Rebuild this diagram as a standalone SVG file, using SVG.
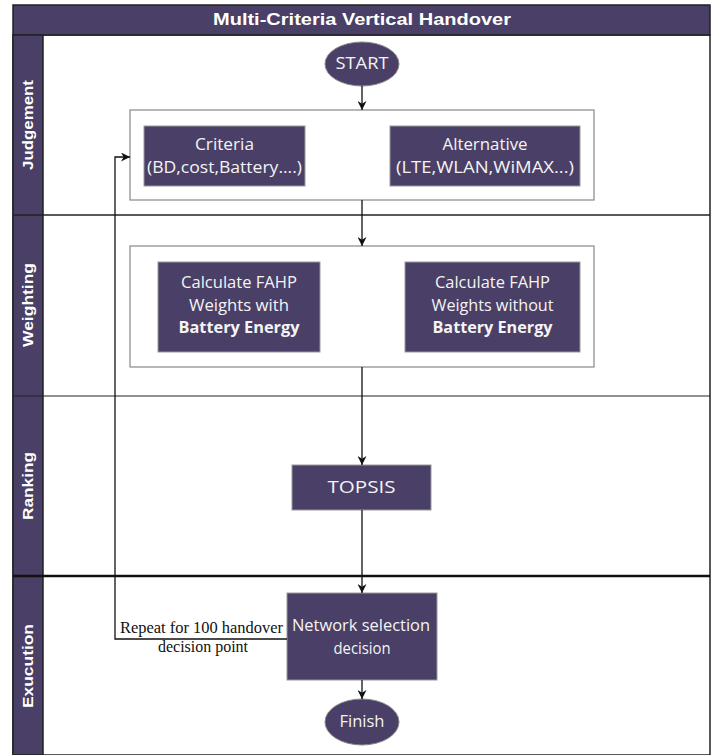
<svg xmlns="http://www.w3.org/2000/svg" width="715" height="755" viewBox="0 0 715 755">
<defs>
<marker id="arr" viewBox="0 0 10 10" refX="10" refY="5" markerWidth="9" markerHeight="9" markerUnits="userSpaceOnUse" orient="auto">
<path d="M0,0 L10,5 L0,10 L3,5 z" fill="#111"/>
</marker>
<style>
.lane{fill:#fff;stroke:#222;stroke-width:1.5}
.hdr{fill:#4a3f66;stroke:#222;stroke-width:1.5}
.lbl{font-family:"Liberation Sans",Arial,sans-serif;font-weight:bold;font-size:15px;fill:#fff;text-anchor:middle}
.ttl{font-family:"Liberation Sans",Arial,sans-serif;font-weight:bold;font-size:17px;fill:#fff;text-anchor:middle}
.grp{fill:#fff;stroke:#888;stroke-width:1.2}
.box{fill:#4a3f66;stroke:#999;stroke-width:1}
.bt{font-family:"Open Sans","DejaVu Sans",sans-serif;font-size:16px;fill:#f4f4f4;text-anchor:middle}
.bb{font-weight:bold}
.con{fill:none;stroke:#111;stroke-width:1.3}
.note{font-family:"Liberation Serif","Times New Roman",serif;font-size:16px;fill:#111;text-anchor:middle}
</style>
</defs>
<rect width="715" height="755" fill="#fff"/>
<g id="pool">
<rect class="lane" x="13" y="35" width="697" height="720"/>
<rect class="hdr" x="13" y="5" width="697" height="30"/>
<text class="ttl" x="362" y="25" textLength="298" lengthAdjust="spacingAndGlyphs">Multi-Criteria Vertical Handover</text>
<rect class="hdr" x="13" y="35" width="30" height="720"/>
<line x1="13" y1="215" x2="710" y2="215" stroke="#222" stroke-width="1.5"/>
<line x1="13" y1="396" x2="710" y2="396" stroke="#222" stroke-width="1.2"/>
<line x1="13" y1="576" x2="710" y2="576" stroke="#111" stroke-width="2.5"/>
<g id="lane-judgement"><text class="lbl" transform="translate(33,125) rotate(-90)" textLength="90" lengthAdjust="spacingAndGlyphs">Judgement</text></g>
<g id="lane-weighting"><text class="lbl" transform="translate(33,305) rotate(-90)" textLength="84" lengthAdjust="spacingAndGlyphs">Weighting</text></g>
<g id="lane-ranking"><text class="lbl" transform="translate(33,486) rotate(-90)" textLength="68" lengthAdjust="spacingAndGlyphs">Ranking</text></g>
<g id="lane-execution"><text class="lbl" transform="translate(33,666) rotate(-90)" textLength="84" lengthAdjust="spacingAndGlyphs">Exucution</text></g>
</g>
<g id="start">
<ellipse cx="362" cy="64" rx="37" ry="22" fill="#4a3f66" stroke="#888"/>
<text class="bt" x="362" y="69" textLength="53" lengthAdjust="spacingAndGlyphs">START</text>
</g>
<g id="judgement-group"><rect class="grp" x="130" y="110" width="464" height="90"/></g>
<g id="criteria">
<rect class="box" x="144" y="126" width="161" height="60"/>
<text class="bt" x="224.5" y="150" textLength="59" lengthAdjust="spacingAndGlyphs">Criteria</text>
<text class="bt" x="224.5" y="173" textLength="155" lengthAdjust="spacingAndGlyphs">(BD,cost,Battery....)</text>
</g>
<g id="alternative">
<rect class="box" x="390" y="126" width="190" height="60"/>
<text class="bt" x="485" y="150" textLength="85" lengthAdjust="spacingAndGlyphs">Alternative</text>
<text class="bt" x="485" y="173" textLength="178" lengthAdjust="spacingAndGlyphs">(LTE,WLAN,WiMAX...)</text>
</g>
<g id="weighting-group"><rect class="grp" x="130" y="246" width="464" height="121"/></g>
<g id="fahp-with">
<rect class="box" x="158" y="262" width="162" height="90"/>
<text class="bt" x="239" y="288" textLength="116" lengthAdjust="spacingAndGlyphs">Calculate FAHP</text>
<text class="bt" x="239" y="311" textLength="100" lengthAdjust="spacingAndGlyphs">Weights with</text>
<text class="bt bb" x="239" y="333" textLength="121" lengthAdjust="spacingAndGlyphs">Battery Energy</text>
</g>
<g id="fahp-without">
<rect class="box" x="405" y="262" width="175" height="90"/>
<text class="bt" x="492.5" y="288" textLength="115" lengthAdjust="spacingAndGlyphs">Calculate FAHP</text>
<text class="bt" x="492.5" y="311" textLength="122" lengthAdjust="spacingAndGlyphs">Weights without</text>
<text class="bt bb" x="492.5" y="333" textLength="120" lengthAdjust="spacingAndGlyphs">Battery Energy</text>
</g>
<g id="topsis">
<rect class="box" x="292" y="465" width="139" height="45"/>
<text class="bt" x="361.5" y="493" textLength="68" lengthAdjust="spacingAndGlyphs">TOPSIS</text>
</g>
<g id="decision">
<rect class="box" x="287" y="593" width="150" height="87"/>
<text class="bt" x="361" y="631" textLength="138" lengthAdjust="spacingAndGlyphs">Network selection</text>
<text class="bt" x="362" y="654" textLength="57" lengthAdjust="spacingAndGlyphs">decision</text>
</g>
<g id="finish">
<ellipse cx="362" cy="722" rx="37" ry="23" fill="#4a3f66" stroke="#888"/>
<text class="bt" x="362" y="727" textLength="45" lengthAdjust="spacingAndGlyphs">Finish</text>
</g>
<g id="connectors">
<line class="con" x1="362" y1="86" x2="362" y2="110" marker-end="url(#arr)"/>
<line class="con" x1="362" y1="200" x2="362" y2="246" marker-end="url(#arr)"/>
<line class="con" x1="362" y1="367" x2="362" y2="465" marker-end="url(#arr)"/>
<line class="con" x1="362" y1="510" x2="362" y2="593" marker-end="url(#arr)"/>
<line class="con" x1="362" y1="680" x2="362" y2="699" marker-end="url(#arr)"/>
<polyline class="con" points="287,639 115,639 115,157 130,157" marker-end="url(#arr)"/>
<text class="note" x="201.5" y="633" textLength="163" lengthAdjust="spacingAndGlyphs">Repeat for 100 handover</text>
<text class="note" x="203" y="652" textLength="90" lengthAdjust="spacingAndGlyphs">decision point</text>
</g>
</svg>
